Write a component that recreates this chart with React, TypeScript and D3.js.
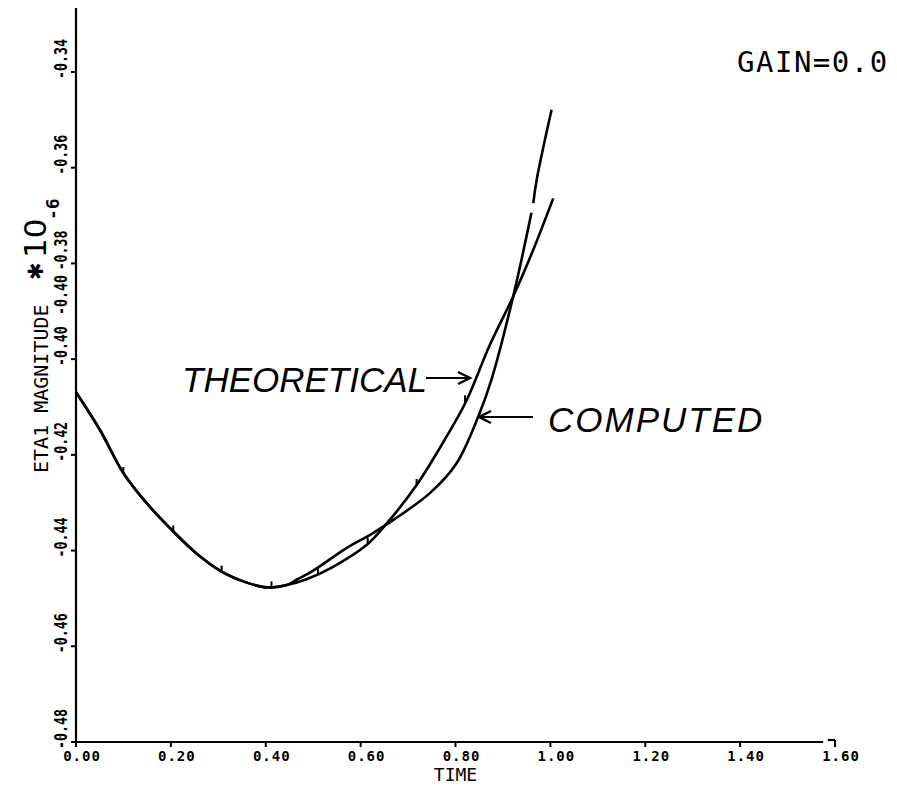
import React from 'react';
import * as d3 from 'd3';

// ---------- data ----------
const xTicks = [0, 0.2, 0.4, 0.6, 0.8, 1.0, 1.2, 1.4, 1.6];
const xTickLabels = ['0.00', '0.20', '0.40', '0.60', '0.80', '1.00', '1.20', '1.40', '1.60'];
const yTicks = [-0.34, -0.36, -0.38, -0.40, -0.42, -0.44, -0.46, -0.48];
const yTickLabels = ['-0.34', '-0.36', '-0.38', '-0.40', '-0.42', '-0.44', '-0.46', '-0.48'];
// a duplicated (ghost) label printed by the plotter
const ghostLabelValues = [-0.3866];
const ghostLabelTexts = ['-0.40'];

const theoTime = [0, 0.0506, 0.0997, 0.149, 0.205, 0.254, 0.307, 0.36, 0.402, 0.444, 0.486, 0.542, 0.613, 0.652, 0.718, 0.781, 0.822, 0.8725, 0.9216, 0.9637, 1.006];
const theoValue = [-0.4069, -0.4148, -0.4238, -0.4301, -0.436, -0.4406, -0.4444, -0.4467, -0.4477, -0.4472, -0.446, -0.4434, -0.4388, -0.4347, -0.4263, -0.4162, -0.4089, -0.397, -0.3869, -0.3772, -0.3664];

const compTime = [0, 0.0506, 0.0997, 0.149, 0.205, 0.254, 0.307, 0.36, 0.402, 0.444, 0.465, 0.5, 0.57, 0.62, 0.652, 0.669, 0.746, 0.802, 0.848, 0.877, 0.9216, 0.957, 0.96, 0.962, 0.964, 0.971, 1.0025];
const compValue: (number | null)[] = [-0.4069, -0.4148, -0.4238, -0.4301, -0.436, -0.4406, -0.4444, -0.4467, -0.4477, -0.4472, -0.4461, -0.4442, -0.4395, -0.4367, -0.4347, -0.4336, -0.428, -0.4218, -0.412, -0.4039, -0.3869, -0.3709, -0.3694, null, -0.3674, -0.3626, -0.3479];

const markerTime = [0.0997, 0.205, 0.307, 0.412, 0.51, 0.615, 0.718, 0.82];
const markerValue = [-0.4238, -0.436, -0.4444, -0.4477, -0.4449, -0.4386, -0.4263, -0.4088];

// ---------- layout ----------
const W = 897;
const H = 788;
const plotTop = 8;

const x = d3.scaleLinear().domain([0, 1.6]).range([76, 835]);
const y = d3.scaleLinear().domain([-0.48, -0.34]).range([742, 72]);

const tickFont = '"DejaVu Sans Mono", monospace';

export default function App() {
  const line = d3
    .line<[number, number | null]>()
    .defined((d) => d[1] !== null)
    .x((d) => x(d[0]))
    .y((d) => y(d[1] as number))
    .curve(d3.curveCatmullRom.alpha(0.5));

  const theo: [number, number | null][] = theoTime.map((t, i) => [t, theoValue[i]]);
  const comp: [number, number | null][] = compTime.map((t, i) => [t, compValue[i]]);

  const x0 = x(0);
  const yBase = y(-0.48);

  const yLabel = (key: string, yy: number, txt: string) => (
    <text
      key={key}
      transform={`translate(${x0 - 9},${yy}) rotate(-90) scale(0.78,1)`}
      textAnchor="middle"
      fontFamily={tickFont}
      fontWeight="bold"
      fontSize={17}
      fill="#000"
    >
      {txt}
    </text>
  );

  return (
    <svg
      width={W}
      height={H}
      viewBox={`0 0 ${W} ${H}`}
      style={{ position: 'absolute', left: 0, top: 0, background: '#fff' }}
    >
      <rect x={0} y={0} width={W} height={H} fill="#fff" />

      {/* y axis */}
      <line x1={x0} x2={x0} y1={plotTop} y2={yBase} stroke="#000" strokeWidth={2.2} />
      {yTicks.map((v, i) => (
        <g key={'yt' + i}>
          <line x1={x0 - 5} x2={x0} y1={y(v)} y2={y(v)} stroke="#000" strokeWidth={2} />
          {yLabel('yl' + i, y(v) - 13, yTickLabels[i])}
        </g>
      ))}
      {ghostLabelValues.map((v, i) => yLabel('gl' + i, y(v), ghostLabelTexts[i]))}

      {/* x axis */}
      <line x1={x0} x2={x(1.575)} y1={yBase} y2={yBase} stroke="#000" strokeWidth={2.2} />
      <line x1={x(1.585)} x2={x(1.6)} y1={yBase - 2} y2={yBase - 2} stroke="#000" strokeWidth={2.2} />
      {xTicks.map((t, i) => (
        <g key={'xt' + i}>
          <line x1={x(t)} x2={x(t)} y1={yBase - (i === xTicks.length - 1 ? 2 : 0)} y2={yBase + 5} stroke="#000" strokeWidth={2} />
          <text
            x={x(t) + 6}
            y={yBase + 19}
            textAnchor="middle"
            fontFamily={tickFont}
            fontWeight="bold"
            fontSize={14}
            letterSpacing={1}
            fill="#000"
          >
            {xTickLabels[i]}
          </text>
        </g>
      ))}
      <text
        x={x(0.8)}
        y={yBase + 39}
        textAnchor="middle"
        fontFamily={tickFont}
        fontSize={18}
        fill="#000"
      >
        TIME
      </text>

      {/* y axis title */}
      <text
        transform={`translate(48,473) rotate(-90)`}
        textAnchor="start"
        fontFamily={tickFont}
        fontSize={20}
        fill="#000"
      >
        ETA1 MAGNITUDE
      </text>
      <text
        transform={`translate(43,280) rotate(-90)`}
        textAnchor="start"
        fontFamily='"DejaVu Sans", sans-serif'
        fontWeight="bold"
        fontSize={21}
        fill="#000"
      >
        ✱
      </text>
      <text
        transform={`translate(46,258) rotate(-90)`}
        textAnchor="start"
        fontFamily='"DejaVu Sans", sans-serif'
        fontSize={31}
        fill="#000"
      >
        10
      </text>
      <text
        transform={`translate(59,220) rotate(-90)`}
        textAnchor="start"
        fontFamily={tickFont}
        fontWeight="bold"
        fontSize={18}
        fill="#000"
      >
        -6
      </text>

      {/* curves */}
      <path d={line(theo) || ''} fill="none" stroke="#000" strokeWidth={2.6} strokeLinejoin="round" />
      <path d={line(comp) || ''} fill="none" stroke="#000" strokeWidth={2.6} strokeLinejoin="round" />
      {markerTime.map((t, i) => (
        <line
          key={'m' + i}
          x1={x(t)}
          x2={x(t)}
          y1={y(markerValue[i]) - 6}
          y2={y(markerValue[i]) + 1}
          stroke="#000"
          strokeWidth={2}
        />
      ))}

      {/* annotations */}
      <text x={182} y={392} fontFamily='"Liberation Sans", Arial, sans-serif' fontStyle="italic" fontSize={35} fill="#000">
        THEORETICAL
      </text>
      <line x1={426} x2={468} y1={378} y2={378} stroke="#000" strokeWidth={2} />
      <path d="M458,372 L470,378 L458,384" fill="none" stroke="#000" strokeWidth={2.4} />

      <text x={548} y={432} fontFamily='"Liberation Sans", Arial, sans-serif' fontStyle="italic" fontSize={35} letterSpacing={2} fill="#000">
        COMPUTED
      </text>
      <line x1={481} x2={533} y1={417} y2={417} stroke="#000" strokeWidth={2} />
      <path d="M491,411 L479,417 L491,423" fill="none" stroke="#000" strokeWidth={2.4} />

      <text x={737} y={72} fontFamily={tickFont} fontSize={29} letterSpacing={1.5} fill="#000">
        GAIN=0.0
      </text>
    </svg>
  );
}
